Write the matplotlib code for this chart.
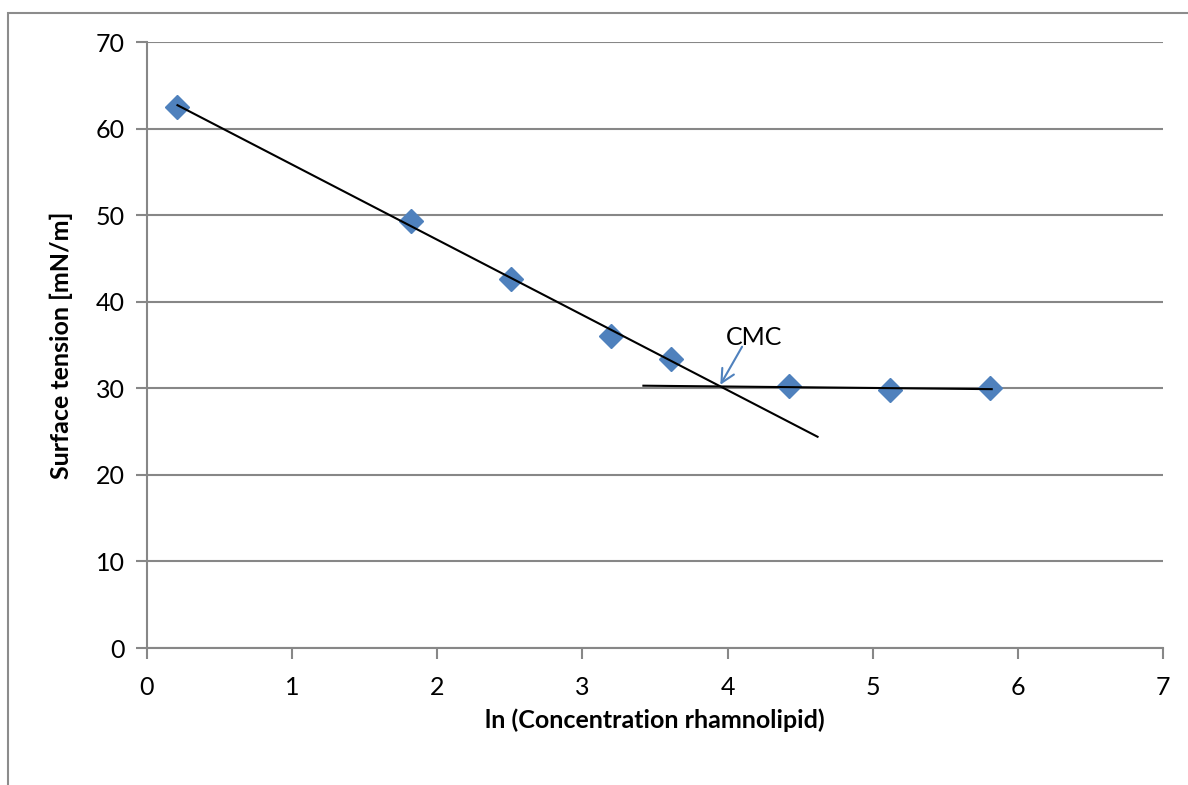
import matplotlib.pyplot as plt
from matplotlib.patches import Rectangle

# data
ln_conc = [0.21, 1.82, 2.51, 3.20, 3.61, 4.42, 5.12, 5.81]
surface_tension = [62.5, 49.3, 42.6, 36.0, 33.4, 30.3, 29.8, 30.0]

# hand-drawn fit lines (start/end in data units)
fit1_x = [0.21, 4.62]
fit1_y = [62.7, 24.4]
fit2_x = [3.42, 5.82]
fit2_y = [30.3, 29.9]

# CMC label and arrow (data units)
cmc_text = (4.18, 35.9)
cmc_arrow_start = (4.10, 34.8)
cmc_arrow_tip = (3.95, 30.4)

x_ticks = [0, 1, 2, 3, 4, 5, 6, 7]
y_ticks = [0, 10, 20, 30, 40, 50, 60, 70]

grid_col = '#878787'
marker_col = '#4F81BD'
fs = 18
plt.rcParams['font.family'] = ['Lato', 'DejaVu Sans']

fig = plt.figure(figsize=(11.88, 7.85), dpi=100)
fig.patches.append(Rectangle((8 / 1188, -0.1), 1.2, 1.1 - 13 / 785,
                             transform=fig.transFigure, fill=False,
                             edgecolor='#8c8c8c', linewidth=1.5))
ax = fig.add_axes([147 / 1188, 1 - 648 / 785, (1163 - 147) / 1188, (648 - 42) / 785])

ax.plot(ln_conc, surface_tension, linestyle='none', marker='D', markersize=12,
        color=marker_col, zorder=3)
ax.plot(fit1_x, fit1_y, color='black', linewidth=1.5, zorder=4)
ax.plot(fit2_x, fit2_y, color='black', linewidth=1.5, zorder=4)

ax.text(cmc_text[0], cmc_text[1], 'CMC', fontsize=fs, ha='center', va='center')
ax.annotate('', xy=cmc_arrow_tip, xytext=cmc_arrow_start,
            arrowprops=dict(arrowstyle='->', color=marker_col, lw=1.5,
                            mutation_scale=24, shrinkA=0, shrinkB=0))

ax.set_xlim(0, 7)
ax.set_ylim(0, 70)
ax.set_xticks(x_ticks)
ax.set_yticks(y_ticks)
ax.yaxis.grid(True, color=grid_col, linewidth=1.5)
ax.set_axisbelow(True)
for s in ['top', 'right']:
    ax.spines[s].set_visible(False)
for s in ['left', 'bottom']:
    ax.spines[s].set_color(grid_col)
    ax.spines[s].set_linewidth(1.5)
ax.tick_params(axis='both', colors=grid_col, labelcolor='black', labelsize=fs,
               length=8, width=1.5)
ax.tick_params(axis='x', pad=12)
ax.tick_params(axis='y', pad=8)

ax.set_xlabel('ln (Concentration rhamnolipid)', fontsize=fs, fontweight='bold', labelpad=7)
ax.set_ylabel('Surface tension [mN/m]', fontsize=fs, fontweight='bold', labelpad=16)

fig.savefig('out.png', dpi=100)
